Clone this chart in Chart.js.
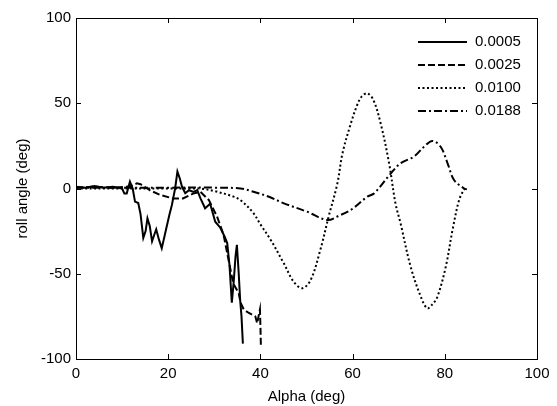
<!DOCTYPE html>
<html>
<head>
<meta charset="utf-8">
<title>roll angle vs alpha</title>
<script src="https://cdn.jsdelivr.net/npm/chart.js@4.4.1/dist/chart.umd.min.js"></script>
<style>
  html, body { margin: 0; padding: 0; background: #fff; }
  canvas { display: block; }
</style>
</head>
<body>
<canvas id="roll-chart" width="557" height="406"></canvas>
<script>
// series labels (legend)
const seriesNames = ['0.0005', '0.0025', '0.0100', '0.0188'];

// 0.0005 - solid
const alpha0005 = [0, 2, 4, 6, 8, 10, 10.5, 11, 11.7, 12.3, 12.8, 13.5, 14, 14.6, 15.1, 15.5, 16, 16.5, 17, 17.4, 18, 18.6, 19.2, 19.7, 20.3, 20.8, 21.5, 22, 22.5, 23, 23.7, 24.5, 25.5, 26.3, 27, 28, 29.1, 30.2, 31.3, 32.2, 32.8, 33.3, 33.8, 34.2, 34.6, 34.9, 35.3, 35.6, 35.9, 36.2];
const roll0005 = [1, 0.5, 1.5, 0.5, 1, 0, -3, -3, 4, 0, -7.7, -8.5, -15, -29, -25, -17.5, -22, -31, -27, -24, -30, -35, -28, -22, -15, -9.7, 0, 9.9, 6, 1, -2.8, -1, -2, -1, -5.8, -11.6, -9, -19.5, -23, -28, -32, -45, -67, -55, -40, -33, -50, -65, -75, -91];

// 0.0025 - dashed
const alpha0025 = [0, 4, 8, 11, 12, 13.2, 14, 16, 18.3, 21, 23.2, 25.4, 27, 28.8, 30.6, 32, 33.1, 34.1, 35.3, 35.7, 36.4, 37.5, 38.9, 39.3, 39.9, 40, 40.1];
const roll0025 = [0.5, 1, 0.5, 1, 1.5, 3, 2.5, -1, -3.8, -5.8, -5.8, -3, -2, -6.7, -16.5, -27, -42, -55.6, -61.5, -67, -71, -73, -75, -79, -71, -80, -92];

// 0.0100 - dotted
const alpha0100 = [0, 10, 20, 25, 27, 30, 34.2, 36, 38.5, 40, 42.2, 45.1, 47.2, 49.1, 50.9, 53, 54.8, 56.7, 57.8, 59.6, 61, 62, 63.2, 64.5, 66.1, 67.9, 69.3, 70.4, 72.6, 74.8, 76.2, 77.3, 78.4, 80.2, 81.7, 83.1, 84.1, 84.5];
const roll0100 = [0, 0, 0, 0, 0, -1.5, -4.8, -7.5, -14.5, -21, -30, -44, -54.6, -58.5, -53.7, -36, -16.5, 3, 20.6, 38, 49, 54, 55.8, 52, 38, 15, -8.7, -20.4, -46, -63.5, -70.3, -68, -63.5, -46, -24, -6.7, -1, 0];

// 0.0188 - dash-dot
const alpha0188 = [0, 10, 20, 30, 35.7, 38.5, 42, 45.1, 50.1, 54.5, 57, 59.6, 63.2, 64.7, 68.3, 70.4, 73.3, 75.5, 77.3, 79.1, 80.6, 82, 84.2, 84.8];
const roll0188 = [0.5, 0.5, 0.5, 0.5, 0, -1.9, -5, -8.7, -13.6, -18.5, -16, -12.6, -4.8, -2.8, 8.9, 14.8, 18.7, 24.5, 27.9, 24.5, 14.8, 5, 0, -0.5];

// axis ticks
const xTicks = [0, 20, 40, 60, 80, 100];
const yTicks = [-100, -50, 0, 50, 100];

const FONT = '"Liberation Sans", Arial, sans-serif';

function toPoints(xs, ys) {
  return xs.map((x, i) => ({ x: x, y: ys[i] }));
}

const lineStyles = [
  { dash: [], tension: 0 },
  { dash: [7, 3], tension: 0 },
  { dash: [2, 2.5], tension: 0.35 },
  { dash: [8, 3, 2, 3], tension: 0.35 }
];

const datasets = [
  toPoints(alpha0005, roll0005),
  toPoints(alpha0025, roll0025),
  toPoints(alpha0100, roll0100),
  toPoints(alpha0188, roll0188)
].map((pts, i) => ({
  label: seriesNames[i],
  data: pts,
  borderColor: '#000',
  borderWidth: 2,
  borderDash: lineStyles[i].dash,
  tension: lineStyles[i].tension,
  pointRadius: 0,
  fill: false
}));

// box around the plot + inward ticks on all four sides (matlab style)
const boxTicks = {
  id: 'boxTicks',
  afterDraw(chart) {
    const { ctx, chartArea: a, scales } = chart;
    const len = 5;
    ctx.save();
    ctx.strokeStyle = '#000';
    ctx.lineWidth = 1;
    ctx.setLineDash([]);
    ctx.strokeRect(a.left + 0.5, a.top + 0.5, a.right - a.left, a.bottom - a.top);
    ctx.beginPath();
    xTicks.forEach((v) => {
      const px = Math.round(scales.x.getPixelForValue(v)) + 0.5;
      ctx.moveTo(px, a.bottom); ctx.lineTo(px, a.bottom - len);
      ctx.moveTo(px, a.top); ctx.lineTo(px, a.top + len);
    });
    yTicks.forEach((v) => {
      const py = Math.round(scales.y.getPixelForValue(v)) + 0.5;
      ctx.moveTo(a.left, py); ctx.lineTo(a.left + len, py);
      ctx.moveTo(a.right, py); ctx.lineTo(a.right - len, py);
    });
    ctx.stroke();
    ctx.restore();
  }
};

// legend drawn inside the axes, top right, no frame
const lineLegend = {
  id: 'lineLegend',
  afterDraw(chart) {
    const { ctx, chartArea: a } = chart;
    const x0 = a.right - 119;
    const x1 = x0 + 49;
    let y = a.top + 24;
    ctx.save();
    ctx.font = '15px ' + FONT;
    ctx.fillStyle = '#000';
    ctx.textBaseline = 'middle';
    chart.data.datasets.forEach((ds) => {
      ctx.beginPath();
      ctx.strokeStyle = '#000';
      ctx.lineWidth = 2;
      ctx.setLineDash(ds.borderDash || []);
      ctx.moveTo(x0, y);
      ctx.lineTo(x1, y);
      ctx.stroke();
      ctx.setLineDash([]);
      ctx.fillText(ds.label, x1 + 8, y);
      y += 23;
    });
    ctx.restore();
  }
};

new Chart(document.getElementById('roll-chart'), {
  type: 'line',
  data: { datasets: datasets },
  options: {
    responsive: false,
    animation: false,
    layout: { padding: { top: 18, right: 20, left: 0, bottom: 0 } },
    plugins: {
      legend: { display: false },
      tooltip: { enabled: false }
    },
    scales: {
      x: {
        type: 'linear',
        min: 0,
        max: 100,
        afterBuildTicks: (scale) => { scale.ticks = xTicks.map((v) => ({ value: v })); },
        afterFit: (scale) => { scale.height = 47; },
        grid: { display: false, drawTicks: false },
        border: { display: false },
        ticks: { color: '#000', padding: 6, maxRotation: 0, font: { family: FONT, size: 15 } },
        title: { display: true, text: 'Alpha (deg)', color: '#000', padding: { top: 2, bottom: 0 }, font: { family: FONT, size: 15 } }
      },
      y: {
        type: 'linear',
        min: -100,
        max: 100,
        afterBuildTicks: (scale) => { scale.ticks = yTicks.map((v) => ({ value: v })); },
        afterFit: (scale) => { scale.width = 76; },
        grid: { display: false, drawTicks: false },
        border: { display: false },
        ticks: { color: '#000', padding: 5, font: { family: FONT, size: 15 } },
        title: { display: true, text: 'roll angle (deg)', color: '#000', padding: { top: 14, bottom: 0 }, font: { family: FONT, size: 15 } }
      }
    }
  },
  plugins: [boxTicks, lineLegend]
});
</script>
</body>
</html>
